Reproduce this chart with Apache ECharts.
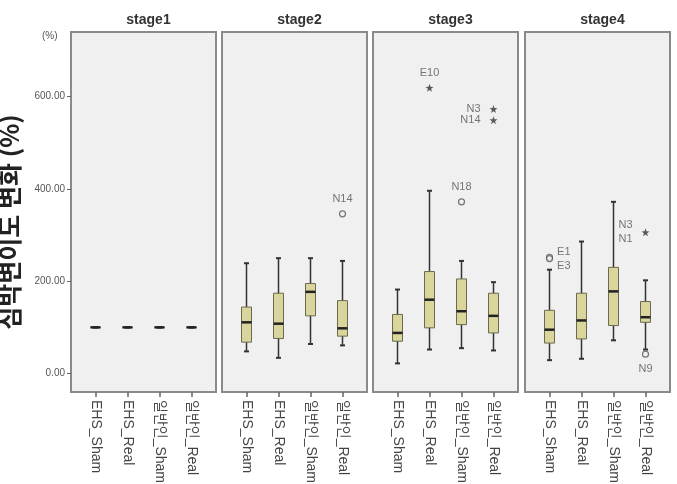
<!DOCTYPE html>
<html>
<head>
<meta charset="utf-8">
<script src="https://cdn.jsdelivr.net/npm/echarts@6/dist/echarts.min.js"></script>
<style>
  html, body { margin: 0; padding: 0; background: #fff; }
  #chart { width: 677px; height: 484px; }
</style>
</head>
<body>
<div id="chart"></div>
<script>
const categories = ["EHS_Sham", "EHS_Real", "일반인_Sham", "일반인_Real"];
const stages = ["stage1", "stage2", "stage3", "stage4"];
const yTicks = [0, 200, 400, 600];

// [min, q1, median, q3, max] for each category
const stage1Box = [[100, 100, 100, 100, 100], [100, 100, 100, 100, 100], [100, 100, 100, 100, 100], [100, 100, 100, 100, 100]];
const stage2Box = [[48, 68, 111, 144, 239], [34, 76, 108, 174, 250], [64, 125, 177, 195, 250], [61, 81, 98, 158, 244]];
const stage3Box = [[22, 70, 88, 128, 182], [52, 99, 160, 221, 396], [55, 106, 135, 205, 244], [50, 88, 125, 174, 198]];
const stage4Box = [[29, 66, 95, 137, 225], [32, 75, 115, 174, 286], [72, 104, 178, 230, 372], [52, 111, 122, 156, 202]];
const boxes = [stage1Box, stage2Box, stage3Box, stage4Box];

// outliers: [category index (1-4), value, label, kind, label position]
const stage1Out = [];
const stage2Out = [[4, 346, "N14", "circle", "top"]];
const stage3Out = [[2, 619, "E10", "star", "top"], [4, 573, "N3", "star", "left"], [4, 549, "N14", "star", "left"], [3, 372, "N18", "circle", "top"]];
const stage4Out = [[1, 252, "", "circle", "right"], [1, 249, "E1\nE3", "circle", "right"], [4, 306, "N3\nN1", "star", "left"], [4, 42, "N9", "circle", "bottom"]];
const outliers = [stage1Out, stage2Out, stage3Out, stage4Out];

const panelLeft = [71, 222, 373, 525];
const panelW = 145;
const panelTop = 32;
const panelH = 360;
const step = 32; // px between boxes

const starPath = "path://M0,-5L1.2,-1.6L4.8,-1.5L1.9,0.7L2.9,4.1L0,2L-2.9,4.1L-1.9,0.7L-4.8,-1.5L-1.2,-1.6Z";
const font = "'Liberation Sans', Arial, 'Noto Sans CJK KR', sans-serif";

function renderBox(params, api) {
  const x = api.value(0);
  const lo = api.coord([x, api.value(1)]);
  const q1 = api.coord([x, api.value(2)]);
  const md = api.coord([x, api.value(3)]);
  const q3 = api.coord([x, api.value(4)]);
  const hi = api.coord([x, api.value(5)]);
  const cx = lo[0];
  const bw = 10, cw = 2.5;
  const line = { stroke: "#333", lineWidth: 1.5 };
  return {
    type: "group",
    children: [
      { type: "line", shape: { x1: cx, y1: lo[1], x2: cx, y2: hi[1] }, style: line },
      { type: "line", shape: { x1: cx - cw, y1: lo[1], x2: cx + cw, y2: lo[1] }, style: { stroke: "#333", lineWidth: 2 } },
      { type: "line", shape: { x1: cx - cw, y1: hi[1], x2: cx + cw, y2: hi[1] }, style: { stroke: "#333", lineWidth: 2 } },
      { type: "rect", shape: { x: cx - bw / 2, y: q3[1], width: bw, height: q1[1] - q3[1] }, style: { fill: "#d9d59b", stroke: "#6a6a50", lineWidth: 1 } },
      { type: "line", shape: { x1: cx - bw / 2, y1: md[1], x2: cx + bw / 2, y2: md[1] }, style: { stroke: "#222", lineWidth: 2.5 } }
    ]
  };
}

const grids = [], xAxes = [], yAxes = [], series = [], titles = [];
stages.forEach((st, i) => {
  grids.push({
    left: panelLeft[i], top: panelTop, width: panelW, height: panelH,
    containLabel: false, outerBoundsMode: "none",
    show: true, backgroundColor: "#f0f0f0", borderColor: "#8a8a8a", borderWidth: 2
  });
  titles.push({
    text: st, left: panelLeft[i] + panelW / 2, top: 8, textAlign: "center",
    textStyle: { fontSize: 14, fontWeight: "bold", color: "#333", fontFamily: font }
  });
  const half = panelW / step / 2;
  xAxes.push({
    type: "value", gridIndex: i, min: 2.5 - half, max: 2.5 + half,
    axisLine: { show: false, onZero: false }, splitLine: { show: false },
    axisTick: { show: true, customValues: [1, 2, 3, 4], length: 5, lineStyle: { color: "#666", width: 1.5 } },
    axisLabel: {
      customValues: [1, 2, 3, 4], rotate: -90, margin: 8, fontSize: 14, color: "#444", fontFamily: font,
      formatter: (v) => categories[Math.round(v) - 1] || ""
    }
  });
  yAxes.push({
    type: "value", gridIndex: i, min: -40, max: 740,
    splitLine: { show: false },
    axisLine: { show: false, onZero: false },
    axisTick: { show: i === 0, customValues: yTicks, length: 4, lineStyle: { color: "#666" } },
    axisLabel: { show: i === 0, customValues: yTicks, fontSize: 10, color: "#555", margin: 6, fontFamily: font, formatter: (v) => v.toFixed(2) },
    name: i === 0 ? "심박변이도 변화 (%)" : "",
    nameLocation: "middle", nameRotate: 90, nameGap: 49, nameMoveOverlap: false,
    nameTextStyle: { fontSize: 25, fontWeight: "bold", color: "#222", padding: [0, 20, 0, 0], fontFamily: "'Noto Sans CJK KR', sans-serif" }
  });
  series.push({
    type: "custom", xAxisIndex: i, yAxisIndex: i,
    renderItem: renderBox,
    encode: { x: 0, y: [1, 2, 3, 4, 5] },
    data: boxes[i].map((b, k) => [k + 1].concat(b)),
    z: 2
  });
  series.push({
    type: "scatter", xAxisIndex: i, yAxisIndex: i, z: 3,
    data: outliers[i].map((o) => ({
      value: [o[0], o[1]],
      name: o[2],
      symbol: o[3] === "star" ? starPath : "circle",
      symbolSize: o[3] === "star" ? 8 : 6,
      itemStyle: o[3] === "star"
        ? { color: "#333", borderWidth: 0 }
        : { color: "#f0f0f0", borderColor: "#555", borderWidth: 1.2 },
      label: {
        show: o[2] !== "", position: o[4], distance: o[4] === "left" ? 9 : 4,
        formatter: "{b}", fontSize: 11, color: "#555", lineHeight: 14, fontFamily: font
      }
    }))
  });
});

const chart = echarts.init(document.getElementById("chart"));
chart.setOption({
  animation: false,
  title: titles,
  grid: grids,
  xAxis: xAxes,
  yAxis: yAxes,
  series: series,
  graphic: [{
    type: "text", left: 42, top: 31,
    style: { text: "(%)", fontSize: 10, fill: "#555", fontFamily: font }
  }]
});
</script>
</body>
</html>
